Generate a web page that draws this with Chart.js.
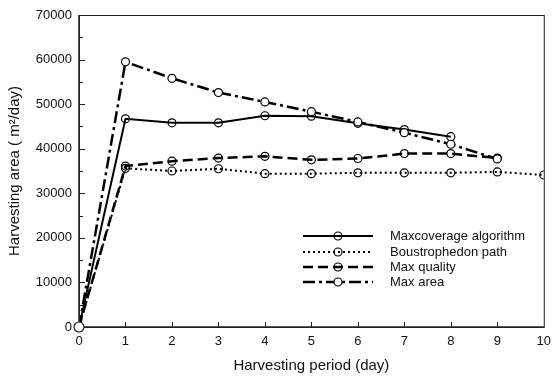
<!DOCTYPE html>
<html>
<head>
<meta charset="utf-8">
<script src="https://cdn.jsdelivr.net/npm/chart.js@4.4.1/dist/chart.umd.min.js"></script>
<style>
  body { margin: 0; background: #fff; }
  #wrap { width: 558px; height: 377px; }
</style>
</head>
<body>
<div id="wrap"><canvas id="chart" width="558" height="377"></canvas></div>
<script>
// harvesting period (day)
var days = [0, 1, 2, 3, 4, 5, 6, 7, 8, 9, 10];

// harvesting area per series (m2/day)
var maxCoverage   = [0, 46700, 45800, 45800, 47400, 47300, 45700, 44300, 42700];
var boustrophedon = [0, 35600, 35000, 35500, 34400, 34400, 34600, 34600, 34600, 34800, 34100];
var maxQuality    = [0, 36100, 37200, 37900, 38300, 37500, 37800, 38900, 38900, 37900];
var maxArea       = [0, 59500, 55800, 52600, 50500, 48300, 46000, 43600, 41000, 37700];

var seriesNames = ['Maxcoverage algorithm', 'Boustrophedon path', 'Max quality', 'Max area'];

var FONT = '"Liberation Sans", Arial, sans-serif';

function toPoints(values) {
    return values.map(function (v, i) { return { x: days[i], y: v }; });
}

function series(name, values, dash, width, fill, order) {
    return {
        label: name,
        data: toPoints(values),
        borderColor: '#000',
        borderWidth: width,
        borderDash: dash,
        pointRadius: 4,
        pointBorderWidth: 1.2,
        pointBorderColor: '#000',
        pointBackgroundColor: fill,
        tension: 0,
        order: order
    };
}

// box, inward tick marks and the line-sample legend
var frame = {
    id: 'frame',
    afterDatasetsDraw: function (chart) {
        var ctx = chart.ctx;
        var a = chart.chartArea;
        var xs = chart.scales.x, ys = chart.scales.y;
        ctx.save();
        ctx.strokeStyle = '#222';
        ctx.lineWidth = 1;
        ctx.strokeRect(a.left + 0.5, a.top + 0.5, a.right - a.left, a.bottom - a.top);
        ctx.lineWidth = 1.5;
        ctx.beginPath();
        ctx.moveTo(a.left, a.top); ctx.lineTo(a.left, a.bottom); ctx.lineTo(a.right, a.bottom);
        ctx.stroke();
        ctx.lineWidth = 1;
        ctx.beginPath();
        for (var d = 1; d < 10; d++) {
            var px = Math.round(xs.getPixelForValue(d)) + 0.5;
            ctx.moveTo(px, a.bottom); ctx.lineTo(px, a.bottom - 5);
        }
        for (var v = 5000; v < 70000; v += 5000) {
            var py = Math.round(ys.getPixelForValue(v)) + 0.5;
            ctx.moveTo(a.left, py); ctx.lineTo(a.left + (v % 10000 ? 4 : 6), py);
        }
        ctx.stroke();

        // origin marker sits on top of everything
        ctx.lineWidth = 1.2;
        ctx.fillStyle = '#fff';
        ctx.beginPath();
        ctx.arc(xs.getPixelForValue(days[0]), ys.getPixelForValue(maxArea[0]), 5, 0, Math.PI * 2);
        ctx.fill();
        ctx.stroke();

        // legend
        var sets = chart.data.datasets;
        var rowY = [236, 252, 267, 282];
        for (var i = 0; i < sets.length; i++) {
            var ds = sets[i], y = rowY[i];
            ctx.strokeStyle = '#000';
            ctx.lineWidth = ds.borderWidth;
            ctx.setLineDash(ds.borderDash);
            ctx.beginPath();
            ctx.moveTo(303, y); ctx.lineTo(373, y);
            ctx.stroke();
            ctx.setLineDash([]);
            ctx.lineWidth = 1.2;
            ctx.fillStyle = ds.pointBackgroundColor;
            ctx.beginPath();
            ctx.arc(338, y, 4, 0, Math.PI * 2);
            ctx.fill();
            ctx.stroke();
            ctx.fillStyle = '#111';
            ctx.font = '13px ' + FONT;
            ctx.textBaseline = 'middle';
            ctx.textAlign = 'left';
            ctx.fillText(ds.label, 390, y);
        }
        ctx.restore();
    }
};

new Chart(document.getElementById('chart').getContext('2d'), {
    type: 'line',
    data: {
        datasets: [
            series(seriesNames[0], maxCoverage, [], 2, 'rgba(0,0,0,0)', 1),
            series(seriesNames[1], boustrophedon, [2, 3], 2, 'rgba(0,0,0,0)', 2),
            series(seriesNames[2], maxQuality, [10, 5], 2.5, 'rgba(0,0,0,0)', 3),
            series(seriesNames[3], maxArea, [12, 4, 3, 4], 2.5, '#fff', 0)
        ]
    },
    options: {
        responsive: false,
        animation: false,
        layout: { padding: { top: 15, right: 8, left: 0, bottom: 0 } },
        plugins: {
            legend: { display: false },
            tooltip: { enabled: false }
        },
        scales: {
            x: {
                type: 'linear',
                min: 0,
                max: 10,
                grid: { display: false, drawTicks: false },
                border: { display: false },
                ticks: { stepSize: 1, padding: 7, color: '#111', font: { family: FONT, size: 13 },
                         callback: function (v) { return String(v); } },
                title: { display: true, text: 'Harvesting period (day)', color: '#111', padding: { top: 4, bottom: 2 }, font: { family: FONT, size: 15 } },
                afterFit: function (s) { s.height = 50; }
            },
            y: {
                min: 0,
                max: 70000,
                grid: { display: false, drawTicks: false },
                border: { display: false },
                ticks: { stepSize: 10000, padding: 7, color: '#111', font: { family: FONT, size: 13 },
                         callback: function (v) { return String(v); } },
                title: { display: true, text: 'Harvesting area ( m\u00b2/day)', color: '#111', padding: { top: 6, bottom: 2 }, font: { family: FONT, size: 15 } },
                afterFit: function (s) { s.width = 79; }
            }
        }
    },
    plugins: [frame]
});
</script>
</body>
</html>
